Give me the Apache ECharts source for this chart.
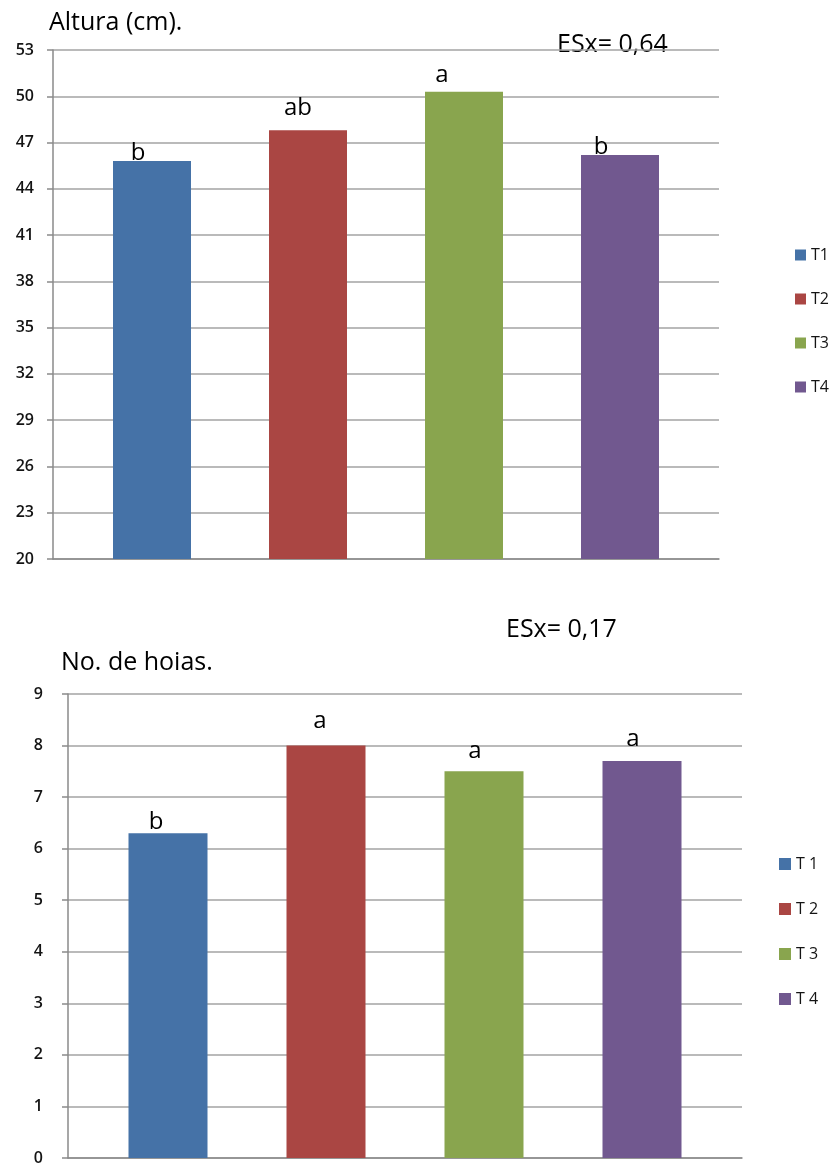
<!DOCTYPE html>
<html>
<head>
<meta charset="utf-8">
<script src="https://cdn.jsdelivr.net/npm/echarts@6/dist/echarts.min.js"></script>
<style>
  html, body { margin: 0; padding: 0; background: #ffffff; }
  #chart { width: 832px; height: 1166px; }
</style>
</head>
<body>
<div id="chart"></div>
<script>
// Treatments and their measured means
const heightNames = ['T1', 'T2', 'T3', 'T4'];
const leafNames = ['T 1', 'T 2', 'T 3', 'T 4'];
const heightCm = [45.8, 47.8, 50.3, 46.2];
const heightLetters = ['b', 'ab', 'a', 'b'];
const leafCount = [6.3, 8.0, 7.5, 7.7];
const leafLetters = ['b', 'a', 'a', 'a'];
const heightTicks = [20, 23, 26, 29, 32, 35, 38, 41, 44, 47, 50, 53];
const leafTicks = [0, 1, 2, 3, 4, 5, 6, 7, 8, 9];
const heightTitle = 'Altura (cm).';
const leafTitle = 'No. de hoias.';
const heightSE = 'ESx= 0,64';
const leafSE = 'ESx= 0,17';

// Styling
const palette = ['#4572a7', '#aa4643', '#89a54e', '#71588f'];
const FONT = '"Open Sans", "Noto Sans", sans-serif';
const heightLabelOffsets = [[-14, 4], [-10, -10], [-22, -4], [-19, 4]];
const leafLabelOffsets = [[-12, 1], [-6, -12], [-9, -8], [-9, -10]];

const gridLine = { color: '#a3a3a3', width: 1.5 };
const axisLine = { color: '#8a8a8a', width: 1.5 };

function valueAxis(gridIndex, min, max, ticks, margin) {
  return {
    type: 'value', gridIndex, min, max,
    axisLine: { show: true, lineStyle: axisLine },
    axisTick: { show: true, length: 6, customValues: ticks, lineStyle: axisLine },
    axisLabel: {
      customValues: ticks, margin,
      fontFamily: FONT, fontSize: 16, fontWeight: 600, color: '#141414'
    },
    splitLine: { show: true, lineStyle: gridLine }
  };
}

function catAxis(gridIndex) {
  return {
    type: 'category', gridIndex, data: [''],
    axisLine: { show: true, lineStyle: axisLine },
    axisTick: { show: false },
    axisLabel: { show: false },
    splitLine: { show: false }
  };
}

function barSeries(names, values, letters, offsets, axisIndex, width) {
  return names.map((name, i) => ({
    name, type: 'bar',
    xAxisIndex: axisIndex, yAxisIndex: axisIndex,
    data: [values[i]],
    barWidth: width, barGap: '100%',
    itemStyle: { color: palette[i] },
    label: {
      show: true, position: 'top', distance: 0,
      offset: offsets[i],
      formatter: letters[i],
      fontFamily: FONT, fontSize: 24, lineHeight: 24, color: '#000000'
    }
  }));
}

function legend(names, left, top, size, gap) {
  return {
    data: names, orient: 'vertical', left, top, padding: 0,
    icon: 'rect', itemWidth: size, itemHeight: size, itemGap: gap,
    textStyle: { fontFamily: FONT, fontSize: 16, lineHeight: 18, color: '#141414' }
  };
}

function caption(text, x, y) {
  return { type: 'text', left: x, top: y, style: { text, font: '25px ' + FONT, fill: '#000000' } };
}

const chart = echarts.init(document.getElementById('chart'));
chart.setOption({
  animation: false,
  backgroundColor: '#ffffff',
  grid: [
    { left: 53, top: 50, width: 666, height: 509 },
    { left: 68, top: 694, width: 674, height: 467 }
  ],
  xAxis: [catAxis(0), catAxis(1)],
  yAxis: [
    valueAxis(0, 20, 53, heightTicks, 19),
    valueAxis(1, 0, 9, leafTicks, 25)
  ],
  legend: [
    legend(heightNames, 795, 246, 11, 26),
    legend(leafNames, 779, 855, 12, 27)
  ],
  series: [
    ...barSeries(heightNames, heightCm, heightLetters, heightLabelOffsets, 0, 78),
    ...barSeries(leafNames, leafCount, leafLetters, leafLabelOffsets, 1, 79)
  ],
  graphic: [
    caption(heightTitle, 49, 10),
    caption(heightSE, 557, 32),
    caption(leafSE, 506, 617),
    caption(leafTitle, 61, 650)
  ]
});
</script>
</body>
</html>
